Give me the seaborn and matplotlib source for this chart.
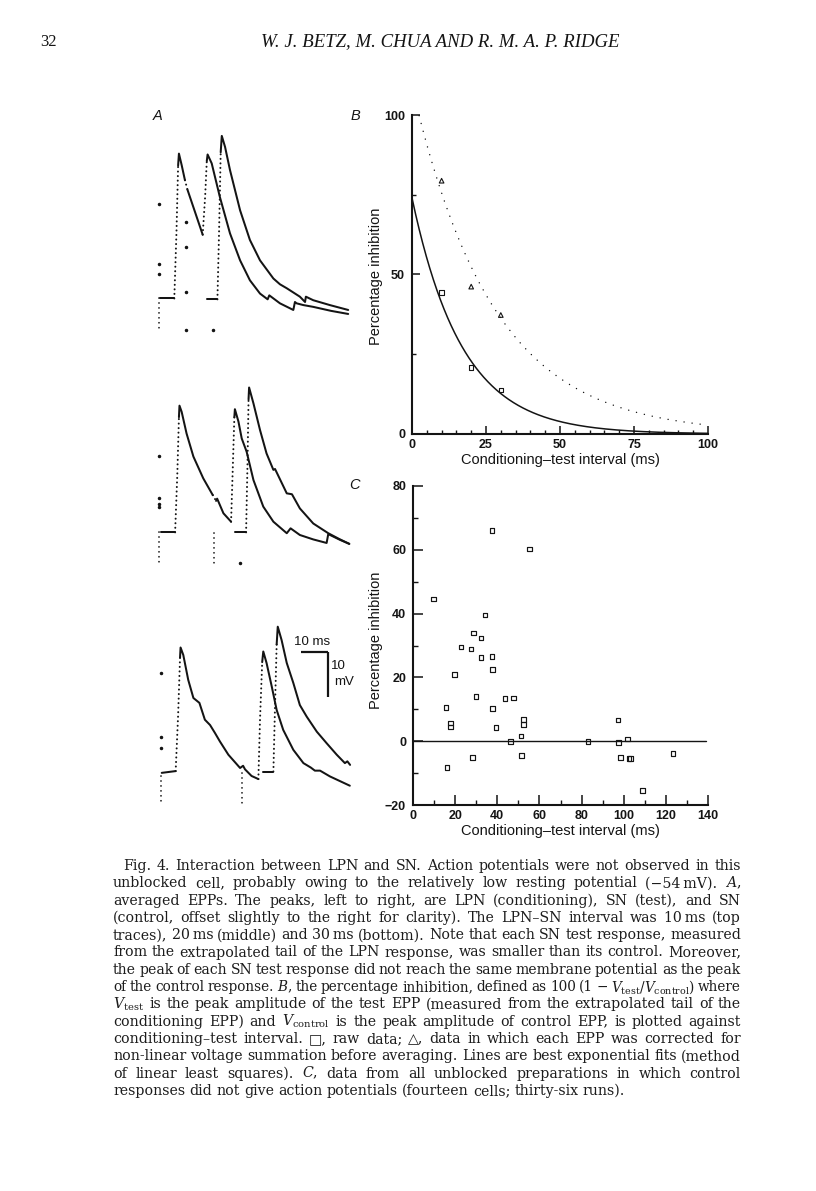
import numpy as np
import pandas as pd
import matplotlib
matplotlib.use("Agg")
import matplotlib.pyplot as plt
import seaborn as sns

sns.set_theme(style="white")
plt.rcParams["font.family"] = ["Liberation Sans", "DejaVu Sans"]
plt.rcParams["mathtext.fontset"] = "dejavuserif"

INK = "#141414"
W, H = 816, 1191

# ------------------------------------------------------------------ data
# Panel B: percentage inhibition vs conditioning-test interval
B_INTERVAL = [10, 20, 30]
B_RAW = [44.4, 20.9, 13.8]          # squares
B_CORRECTED = [79.4, 46.2, 37.3]    # triangles
B_FIT_RAW = (74.0, 17.0)            # amplitude (%), time constant (ms)
B_FIT_CORR = (109.0, 27.3)
B_XTICKS = [0, 25, 50, 75, 100]
B_YTICKS = [0, 50, 100]

# Panel C: all unblocked preparations (36 runs)
C_INTERVAL = [37.5, 55.4, 9.7, 34.2, 28.6, 32.3, 22.8, 27.5, 37.5, 32.3,
              37.8, 19.8, 29.9, 43.7, 47.8, 15.7, 37.8, 17.7, 17.7, 39.4,
              52.4, 52.4, 51.3, 46.2, 51.4, 28.2, 16.1, 83.1, 97.3, 97.6,
              101.7, 98.4, 102.5, 103.2, 108.9, 123.4]
C_INHIB = [66.1, 60.3, 44.6, 39.6, 33.9, 32.3, 29.5, 28.9, 26.6, 26.2,
           22.5, 21.0, 14.0, 13.3, 13.6, 10.6, 10.3, 5.7, 4.5, 4.2,
           6.8, 5.3, 1.6, 0.0, -4.4, -5.1, -8.3, -0.1, 6.6, -0.4,
           0.7, -5.2, -5.5, -5.5, -15.5, -3.9]
C_XTICKS = [0, 20, 40, 60, 80, 100, 120, 140]
C_YTICKS = [-20, 0, 20, 40, 60, 80]

# Panel A: averaged EPP traces (time in ms, potential in mV re. baseline)
# each segment: (kind, times, potentials); kind 's' = continuous, 'd' = sampled dots
TOP_TEST = [
    ("s", [0.2, 5.6], [0, 0]),
    ("d", [5.6, 6.4, 7.0], [0, 15, 30]),
    ("s", [7.0, 7.3, 8.3, 9.5], [30, 32.7, 30.1, 26.7]),
    ("d", [9.5, 10.4], [26.7, 24.6]),
    ("s", [10.4, 13.2, 16.0], [24.6, 19.5, 14.4]),
    ("d", [16.0, 16.9, 17.5], [14.4, 23, 31]),
    ("s", [17.5, 17.8, 19.3, 22.3, 26.0, 29.7, 33.3, 37.0, 39.8, 40.4, 44.3,
           49.2, 49.8, 50.4, 52.9, 56.5, 63.0, 69.3],
          [31, 32.5, 30.5, 22.9, 14.7, 8.6, 4.1, 1.1, -0.2, 0.7, -1.1,
           -2.6, -0.8, -1.1, -1.5, -1.9, -2.8, -3.5]),
]
TOP_CTRL = [
    ("s", [17.5, 21.4], [-0.2, -0.2]),
    ("d", [21.4, 22.0, 22.6], [-0.2, 15, 33]),
    ("s", [22.6, 23.0, 24.2, 26.0, 29.7, 33.3, 37.0, 41.9, 44.3, 46.8, 51.6,
           53.5, 53.8, 56.5, 62.6, 69.3],
          [33, 36.7, 34.2, 29.0, 19.9, 13.2, 8.6, 4.5, 3.2, 2.3, 0.4,
           -0.8, 0.4, -0.4, -1.5, -2.6]),
]
TOP_ART_DOTS_T = [0, 0, 0, 9.9, 9.9, 9.9, 9.9, 19.7]
TOP_ART_DOTS_V = [21.4, 7.7, 5.6, 17.3, 11.6, 1.5, -7.2, -7.2]
TOP_ART_RUNS = [(0, 0, -7.2)]

MID_TEST = [
    ("s", [0.6, 5.9], [0, 0]),
    ("d", [5.9, 6.7, 7.3], [0, 13, 26]),
    ("s", [7.3, 7.5, 8.3, 10.1, 12.6, 16.2, 19.7], [26, 28.6, 27.2, 22.3, 17.1, 12.2, 8.4]),
    ("d", [19.7, 20.9], [8.4, 7.1]),
    ("s", [20.9, 21.3, 23.6, 26.4], [7.1, 7.6, 4.3, 2.4]),
    ("d", [26.4, 27.0, 27.6], [2.4, 14, 26]),
    ("s", [27.6, 27.8, 29.1, 30.3, 32.1, 34.6, 38.2, 41.9, 46.8, 48.2, 51.6,
           56.5, 61.4, 62.0, 66.3, 69.7],
          [26, 27.8, 25.0, 21.2, 18.2, 11.8, 5.8, 2.4, -0.2, 0.9, -0.6,
           -1.6, -2.4, -0.4, -1.7, -2.6]),
]
MID_CTRL = [
    ("s", [27.8, 31.9], [0, 0]),
    ("d", [31.9, 32.4, 32.8], [0, 15, 30]),
    ("s", [32.8, 33.0, 34.6, 37.0, 39.4, 41.9, 42.5, 46.8, 48.7, 51.6, 56.5,
           62.0, 66.0, 69.7],
          [30, 32.7, 29.1, 23.1, 17.8, 14.1, 14.3, 8.8, 8.6, 5.4, 2.0,
           -0.2, -1.5, -2.6]),
]
MID_ART_DOTS_T = [0, 0, 0, 0, 29.7]
MID_ART_DOTS_V = [17.2, 7.7, 6.5, 5.8, -7.0]
MID_ART_RUNS = [(0, 0, -6.6), (20.1, -0.2, -7.8)]

BOT_TEST = [
    ("s", [1.0, 6.1], [0, 0.4]),
    ("d", [6.1, 7.0, 7.7], [0.4, 13, 26]),
    ("s", [7.7, 7.9, 8.9, 10.7, 12.6, 14.8, 16.8, 18.7, 20.5, 22.3, 25.4, 29.7,
           30.8, 31.5, 33.9, 36.4],
          [26, 28.3, 26.6, 21.0, 16.9, 15.8, 12.0, 10.8, 9.0, 7.1, 4.1, 1.1,
           1.6, 0.8, -0.7, -1.4]),
    ("d", [36.4, 37.0, 37.8], [-1.4, 12, 25]),
    ("s", [37.8, 38.2, 39.4, 41.3, 43.1, 45.5, 49.2, 52.9, 55.6, 57.1, 59.0,
           62.6, 69.9],
          [25, 27.4, 24.8, 19.5, 14.2, 9.7, 5.2, 2.2, 1.2, 0.5, 0.5,
           -0.8, -2.9]),
]
BOT_CTRL = [
    ("s", [38.0, 41.9], [0.3, 0.3]),
    ("d", [41.9, 42.5, 43.1], [0.3, 15, 29]),
    ("s", [43.1, 43.5, 44.9, 46.8, 49.2, 51.6, 54.1, 57.8, 61.4, 65.1, 68.1,
           69.0, 70.0],
          [29, 33.0, 30.0, 24.8, 20.3, 15.3, 12.7, 9.3, 6.7, 4.1, 2.2,
           2.6, 1.8]),
]
BOT_ART_DOTS_T = [0.6, 0.6, 0.6]
BOT_ART_DOTS_V = [22.5, 8.0, 5.6]
BOT_ART_RUNS = [(0.6, -0.8, -6.8), (30.3, 0, -7.6)]

SCALE_MS = 10
SCALE_MV = 10

HEADER_PAGE = "32"
HEADER_TITLE = "W. J. BETZ, M. CHUA AND R. M. A. P. RIDGE"

CAPTION_LINES = [
    "Fig. 4. Interaction between LPN and SN. Action potentials were not observed in this",
    "unblocked cell, probably owing to the relatively low resting potential (\u221254\u2009mV). $\\mathit{A}$,",
    "averaged EPPs. The peaks, left to right, are LPN (conditioning), SN (test), and SN",
    "(control, offset slightly to the right for clarity). The LPN\u2013SN interval was 10\u2009ms (top",
    "traces), 20\u2009ms (middle) and 30\u2009ms (bottom). Note that each SN test response, measured",
    "from the extrapolated tail of the LPN response, was smaller than its control. Moreover,",
    "the peak of each SN test response did not reach the same membrane potential as the peak",
    "of the control response. $\\mathit{B}$, the percentage inhibition, defined as 100 (1 \u2212 $V_{\\mathrm{test}}/V_{\\mathrm{control}}$) where",
    "$V_{\\mathrm{test}}$ is the peak amplitude of the test EPP (measured from the extrapolated tail of the",
    "conditioning EPP) and $V_{\\mathrm{control}}$ is the peak amplitude of control EPP, is plotted against",
    "conditioning\u2013test interval. \u25a1, raw data; \u25b3, data in which each EPP was corrected for",
    "non-linear voltage summation before averaging. Lines are best exponential fits (method",
    "of linear least squares). $\\mathit{C}$, data from all unblocked preparations in which control",
    "responses did not give action potentials (fourteen cells; thirty-six runs).",
]

# ------------------------------------------------------------------ figure
fig = plt.figure(figsize=(W / 100, H / 100), dpi=100)
fig.patch.set_facecolor("white")


def rect(x0, y0, x1, y1):
    return [x0 / W, 1 - y1 / H, (x1 - x0) / W, (y1 - y0) / H]


# ---------------- Panel A
axA = fig.add_axes(rect(150, 100, 360, 830))
axA.set_xlim(-3.30, 73.63)
axA.set_ylim(0, 164.8)
axA.axis("off")

GROUPS = [
    (120.0, TOP_TEST, TOP_CTRL, TOP_ART_DOTS_T, TOP_ART_DOTS_V, TOP_ART_RUNS),
    (67.2, MID_TEST, MID_CTRL, MID_ART_DOTS_T, MID_ART_DOTS_V, MID_ART_RUNS),
    (12.9, BOT_TEST, BOT_CTRL, BOT_ART_DOTS_T, BOT_ART_DOTS_V, BOT_ART_RUNS),
]
for off, test, ctrl, dt, dv, runs in GROUPS:
    for trace in (test, ctrl):
        for kind, t, v in trace:
            vv = np.asarray(v, float) + off
            if kind == "s":
                axA.plot(t, vv, color=INK, lw=1.45, solid_joinstyle="round",
                         solid_capstyle="round")
            else:
                axA.plot(t, vv, color=INK, lw=1.45, ls=(0, (0.05, 2.2)),
                         dash_capstyle="round")
    axA.plot(dt, np.asarray(dv) + off, ls="none", marker="o", ms=1.5,
             color=INK)
    for t, v0, v1 in runs:
        axA.plot([t, t], [v0 + off, v1 + off], color=INK, lw=1.25,
                 ls=(0, (0.05, 2.8)), dash_capstyle="round")

# scale bar (bottom group)
sb_off = 12.9
sb_t0, sb_v0 = 52.0, 27.2
axA.plot([sb_t0, sb_t0 + SCALE_MS], [sb_v0 + sb_off] * 2, color=INK, lw=1.6,
         solid_capstyle="butt")
axA.plot([sb_t0 + SCALE_MS] * 2, [sb_v0 + sb_off, sb_v0 - SCALE_MV + sb_off],
         color=INK, lw=1.6, solid_capstyle="butt")
axA.text(sb_t0 + 3.9, sb_v0 + 2.4 + sb_off, f"{SCALE_MS} ms", ha="center",
         va="center", fontsize=9.5, color=INK)
axA.text(sb_t0 + SCALE_MS + 1.0, sb_v0 - 3.1 + sb_off, f"{SCALE_MV}",
         ha="left", va="center", fontsize=9.5, color=INK)
axA.text(sb_t0 + SCALE_MS + 2.1, sb_v0 - 6.6 + sb_off, "mV",
         ha="left", va="center", fontsize=9.5, color=INK)


def style_axes(ax):
    sns.despine(ax=ax)
    for s in ("left", "bottom"):
        ax.spines[s].set_linewidth(1.5)
        ax.spines[s].set_color(INK)
    ax.tick_params(which="major", direction="in", length=5.5, width=1.1,
                   color=INK, labelsize=9, pad=3.5, labelcolor=INK,
                   left=True, bottom=True)
    ax.tick_params(which="minor", direction="in", length=2.8, width=1.0,
                   color=INK, left=True, bottom=True)
    ax.tick_params(axis="y", which="major", pad=5)
    for lbl in ax.get_xticklabels() + ax.get_yticklabels():
        lbl.set_fontweight("bold")
    ax.set_facecolor("none")
    ax.set_xlabel("")
    ax.set_ylabel("")


# ---------------- Panel B
axB = fig.add_axes(rect(412, 115, 708, 434))
xs = np.linspace(0, 100, 500)
fit_raw = B_FIT_RAW[0] * np.exp(-xs / B_FIT_RAW[1])
fit_corr = B_FIT_CORR[0] * np.exp(-xs / B_FIT_CORR[1])
mask = fit_corr <= 100
sns.lineplot(x=xs, y=fit_raw, ax=axB, color=INK, lw=1.1)
sns.lineplot(x=xs[mask], y=fit_corr[mask], ax=axB, color=INK, lw=1.05,
             ls=(0, (0.05, 5.5)), dash_capstyle="round")
sns.scatterplot(x=B_INTERVAL, y=B_RAW, ax=axB, marker="s", s=10,
                facecolor="none", edgecolor=INK, linewidth=0.8, zorder=5)
sns.scatterplot(x=B_INTERVAL, y=B_CORRECTED, ax=axB, marker="^", s=11,
                facecolor="none", edgecolor=INK, linewidth=0.8, zorder=5)
axB.set_xlim(0, 100)
axB.set_ylim(0, 100)
axB.set_xticks(B_XTICKS)
axB.set_xticks(np.arange(0, 101, 5), minor=True)
axB.set_yticks(B_YTICKS)
axB.set_yticks([25, 75], minor=True)
style_axes(axB)
axB.text(0.5, -0.080, "Conditioning\u2013test interval (ms)", transform=axB.transAxes,
         ha="center", va="center", fontsize=10.5, color=INK)
axB.text(-0.121, 0.493, "Percentage inhibition", transform=axB.transAxes,
         ha="center", va="center", rotation=90, fontsize=10.5, color=INK)

# ---------------- Panel C
axC = fig.add_axes(rect(413, 486, 708, 805))
axC.axhline(0, xmin=0, xmax=139 / 140, color=INK, lw=1.0)
sns.scatterplot(x=C_INTERVAL, y=C_INHIB, ax=axC, marker="s", s=11,
                facecolor="none", edgecolor=INK, linewidth=0.85, zorder=5)
axC.set_xlim(0, 140)
axC.set_ylim(-20, 80)
axC.set_xticks(C_XTICKS)
axC.set_xticks(np.arange(10, 140, 20), minor=True)
axC.set_yticks(C_YTICKS)
axC.set_yticks(np.arange(-10, 80, 20), minor=True)
style_axes(axC)
axC.tick_params(which="major", length=7)
axC.tick_params(which="minor", length=3.5)
axC.text(0.5, -0.080, "Conditioning\u2013test interval (ms)", transform=axC.transAxes,
         ha="center", va="center", fontsize=10.5, color=INK)
axC.text(-0.124, 0.517, "Percentage inhibition", transform=axC.transAxes,
         ha="center", va="center", rotation=90, fontsize=10.5, color=INK)

# panel letters
for lab, x, y in (("A", 158, 116), ("B", 355, 116), ("C", 355, 485)):
    fig.text(x / W, 1 - y / H, lab, ha="center", va="center", fontsize=10.5,
             style="italic", color=INK)

# header
fig.text(40 / W, 1 - 42 / H, HEADER_PAGE, ha="left", va="center",
         fontsize=12, family=["Liberation Serif"], color=INK)
fig.text(440 / W, 1 - 42 / H, HEADER_TITLE, ha="center", va="center",
         fontsize=13.5, family=["Liberation Serif"], style="italic", color=INK)

# caption, justified
renderer = fig.canvas.get_renderer()
CAP_FAMILY = ["DejaVu Serif", "DejaVu Sans"]
CAP_FS = 10.2
MIN_GAP = 3.0
left_px, right_px = 113, 741
for i, line in enumerate(CAPTION_LINES):
    words = line.split(" ")
    x0 = left_px + (10 if i == 0 else 0)
    y = 1 - (870 + 17.3 * i) / H
    last = i == len(CAPTION_LINES) - 1
    fs = CAP_FS
    for _ in range(3):
        texts = [fig.text(0, y, w, fontsize=fs, family=CAP_FAMILY,
                          ha="left", va="baseline", color="#1c1c1c") for w in words]
        widths = [t.get_window_extent(renderer).width for t in texts]
        avail = right_px - x0
        need = sum(widths) + MIN_GAP * (len(words) - 1)
        if last or need <= avail:
            break
        for t in texts:
            t.remove()
        fs = fs * (avail - MIN_GAP * (len(words) - 1)) / sum(widths) * 0.995
    if last or len(words) == 1:
        gap = 4.2
    else:
        gap = (avail - sum(widths)) / (len(words) - 1)
    x = x0
    for t, w in zip(texts, widths):
        t.set_x(x / W)
        x += w + gap

fig.savefig("out.png", dpi=100, facecolor="white")
